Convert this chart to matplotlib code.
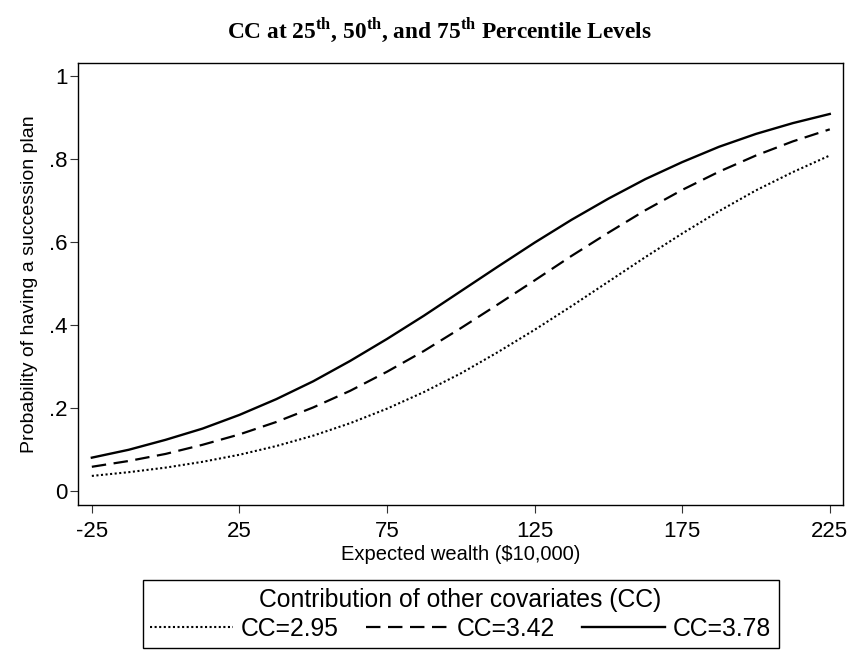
import matplotlib
matplotlib.use("Agg")
import matplotlib.pyplot as plt

plt.rcParams["font.family"] = ["Liberation Sans", "DejaVu Sans"]
plt.rcParams["mathtext.fontset"] = "custom"
plt.rcParams["mathtext.rm"] = "Liberation Serif:bold"
plt.rcParams["mathtext.bf"] = "Liberation Serif:bold"

# expected wealth ($10,000)
wealth = [-25, -12.5, 0, 12.5, 25, 37.5, 50, 62.5, 75, 87.5, 100,
          112.5, 125, 137.5, 150, 162.5, 175, 187.5, 200, 212.5, 225]

# predicted probability
p_295 = [0.036, 0.045, 0.056, 0.070, 0.087, 0.108, 0.133, 0.163, 0.198, 0.238, 0.283,
         0.334, 0.388, 0.445, 0.504, 0.563, 0.620, 0.674, 0.724, 0.768, 0.808]
p_342 = [0.058, 0.072, 0.089, 0.111, 0.136, 0.166, 0.201, 0.241, 0.287, 0.337, 0.392,
         0.449, 0.507, 0.566, 0.622, 0.676, 0.725, 0.769, 0.808, 0.842, 0.871]
p_378 = [0.080, 0.099, 0.123, 0.150, 0.183, 0.221, 0.264, 0.313, 0.366, 0.422, 0.481,
         0.540, 0.598, 0.653, 0.704, 0.751, 0.792, 0.829, 0.860, 0.886, 0.908]

xticks = [-25, 25, 75, 125, 175, 225]
yticks = [0, 0.2, 0.4, 0.6, 0.8, 1]
ytick_labels = ["0", ".2", ".4", ".6", ".8", "1"]

fig = plt.figure(figsize=(8.53, 6.52), dpi=100)
ax = fig.add_axes([0.0914, 0.2255, 0.8966, 0.678])

ax.plot(wealth, p_295, color="black", lw=1.5, linestyle=(0, (1, 1.2)), label="CC=2.95")
ax.plot(wealth, p_342, color="black", lw=1.6, linestyle=(0, (6.5, 3.4)), label="CC=3.42")
ax.plot(wealth, p_378, color="black", lw=1.7, linestyle="-", label="CC=3.78")

ax.set_xlim(-29.7, 229.4)
ax.set_ylim(-0.034, 1.031)
ax.set_xticks(xticks)
ax.set_xticklabels([str(t) for t in xticks])
ax.set_yticks(yticks)
ax.set_yticklabels(ytick_labels)
ax.tick_params(direction="out", length=5.5, width=0.8, color="#333333",
               labelsize=16)
ax.tick_params(axis="x", pad=6)
ax.tick_params(axis="y", pad=2)
for s in ax.spines.values():
    s.set_linewidth(1.0)
    s.set_color("black")

ax.set_xlabel("Expected wealth ($10,000)", fontsize=14.5, labelpad=2)
ax.set_ylabel("Probability of having a succession plan", fontsize=14, labelpad=8)

fig.text(0.515, 0.954,
         r"CC at 25$^{\rm th}$, 50$^{\rm th}$, and 75$^{\rm th}$ Percentile Levels",
         ha="center", va="center", fontsize=16.8, fontweight="bold",
         family="Liberation Serif")

leg = fig.legend(loc="center", bbox_to_anchor=(0.54, 0.058), ncol=3,
                 title="Contribution of other covariates (CC)",
                 fontsize=17.8, title_fontsize=17.8, handlelength=3.35,
                 handletextpad=0.32, columnspacing=1.1, fancybox=False,
                 edgecolor="black", framealpha=1, borderpad=0.3,
                 labelspacing=0.2)
leg.get_frame().set_linewidth(1.0)

fig.savefig("out.png", dpi=100)
